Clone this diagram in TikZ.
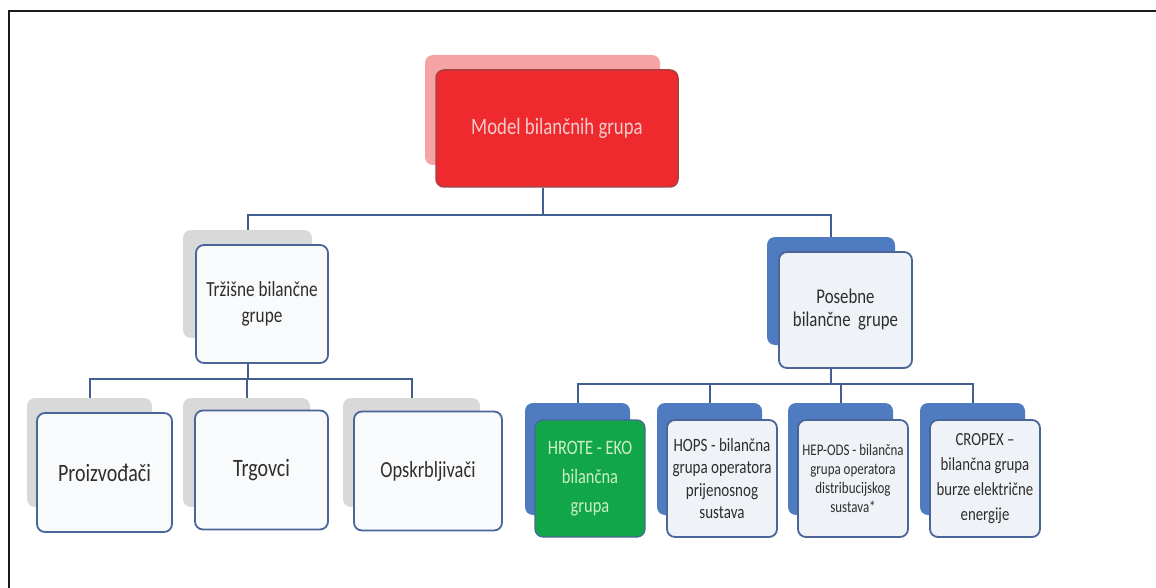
\documentclass[tikz,border=0pt]{standalone}
\usepackage{fontspec}
\setmainfont{Carlito}[FakeStretch=0.8]
\definecolor{frame}{HTML}{1A1A1A}
\definecolor{conncol}{HTML}{41608F}
\definecolor{pinkc}{HTML}{F6A3A5}
\definecolor{redc}{HTML}{EE2A2E}
\definecolor{redborder}{HTML}{A8413F}
\definecolor{redtxt}{HTML}{F3CBCB}
\definecolor{grayc}{HTML}{D9D9D9}
\definecolor{bluec}{HTML}{4F7CC0}
\definecolor{bordc}{HTML}{4A6699}
\definecolor{whitec}{HTML}{F9FAFC}
\definecolor{lightc}{HTML}{EFF2F7}
\definecolor{greenc}{HTML}{12A64B}
\definecolor{greentxt}{HTML}{CDEFC4}
\definecolor{txtc}{HTML}{2E2E2E}
\begin{document}
\begin{tikzpicture}[x=1pt,y=-1pt,
  shape base/.style={rectangle, rounded corners=8pt, inner sep=0pt, align=center},
  pinkback/.style={shape base, fill=pinkc},
  redbox/.style={shape base, fill=redc, draw=redborder, line width=1.5pt, text=redtxt},
  grayback/.style={shape base, fill=grayc},
  blueback/.style={shape base, fill=bluec},
  whitebox/.style={shape base, fill=whitec, draw=bordc, line width=1.8pt, text=txtc},
  lightbox/.style={shape base, fill=lightc, draw=bordc, line width=1.8pt, text=txtc},
  greenbox/.style={shape base, fill=greenc, draw=bordc, line width=1.2pt, text=greentxt},
  conn/.style={draw=conncol, line width=2pt},
  sz/.style 2 args={minimum width=#1pt, minimum height=#2pt}
]
\useasboundingbox (0,0) rectangle (1156,588);
% outer frame (left and top edges)
\coordinate (ftl) at (9,11);
\coordinate (fbl) at (9,588);
\coordinate (ftr) at (1156,11);
\draw[frame, line width=2.5pt] (fbl) -- (ftl) -- (ftr);

% top node
\node[pinkback, sz={235}{110}] (mb) at (542.5,110) {};
\node[redbox, sz={242}{117}, font=\fontsize{23.5}{26}\selectfont] (mf) at (557,128.5) {Model bilančnih grupa};

% middle nodes
\node[grayback, sz={129}{108}] (tb) at (247.5,284) {};
\node[whitebox, sz={132}{118}, font=\fontsize{21.5}{26}\selectfont] (tf) at (262,304) {Tržišne bilančne\\grupe};
\node[blueback, sz={128}{108}] (pb) at (831,291) {};
\node[lightbox, sz={133}{116}, font=\fontsize{21}{23}\selectfont] (pf) at (845.5,310) {Posebne\\bilančne~ grupe};

% bottom left nodes
\node[grayback, sz={125}{109}] (b1b) at (89.5,452.5) {};
\node[whitebox, sz={135}{119}, font=\fontsize{25}{26}\selectfont] (b1f) at (104.5,472.5) {Proizvođači};
\node[grayback, sz={127}{109}] (b2b) at (246.5,452.5) {};
\node[whitebox, sz={133}{119}, font=\fontsize{25}{26}\selectfont] (b2f) at (261.5,470) {Trgovci};
\node[grayback, sz={137}{109}] (b3b) at (411.5,452.5) {};
\node[whitebox, sz={148}{119}, font=\fontsize{23}{26}\selectfont] (b3f) at (428,471) {Opskrbljivači};

% bottom right nodes
\node[blueback, sz={105}{112}] (r1b) at (577.5,459) {};
\node[greenbox, sz={110}{117}, font=\fontsize{20.5}{29}\selectfont] (r1f) at (590,478.5) {HROTE - EKO\\bilančna\\grupa};
\node[blueback, sz={105}{112}] (r2b) at (709.5,459) {};
\node[lightbox, sz={110}{117}, font=\fontsize{18.8}{22.5}\selectfont] (r2f) at (722,478.5) {HOPS - bilančna\\grupa operatora\\prijenosnog\\sustava};
\node[blueback, sz={105}{112}] (r3b) at (840.5,459) {};
\node[lightbox, sz={110}{117}, font=\fontsize{16.2}{19}\selectfont] (r3f) at (853,478.5) {HEP-ODS - bilančna\\grupa operatora\\distribucijskog\\sustava*};
\node[blueback, sz={105}{112}] (r4b) at (972.5,459) {};
\node[lightbox, sz={110}{117}, font=\fontsize{18.5}{25}\selectfont] (r4f) at (985,478.5) {CROPEX –\\bilančna grupa\\burze električne\\energije};

% connectors level 1
\draw[conn] (mb.south |- mf.south) -- ++(0,27) coordinate (j1);
\draw[conn] (tb.north) |- (j1) -| (pb.north);
% connectors level 2 left
\draw[conn] (tb.south |- tf.south) -- ++(0,15) coordinate (j2);
\draw[conn] (b1b.north) |- (j2) -| (b3b.north);
\draw[conn] (b2b.north) -- (b2b.north |- j2);
% connectors level 2 right
\draw[conn] (pb.south |- pf.south) -- ++(0,15) coordinate (j3);
\draw[conn] (r1b.north) |- (j3) -| (r4b.north);
\draw[conn] (r2b.north) -- (r2b.north |- j3);
\draw[conn] (r3b.north) -- (r3b.north |- j3);
\end{tikzpicture}
\end{document}
